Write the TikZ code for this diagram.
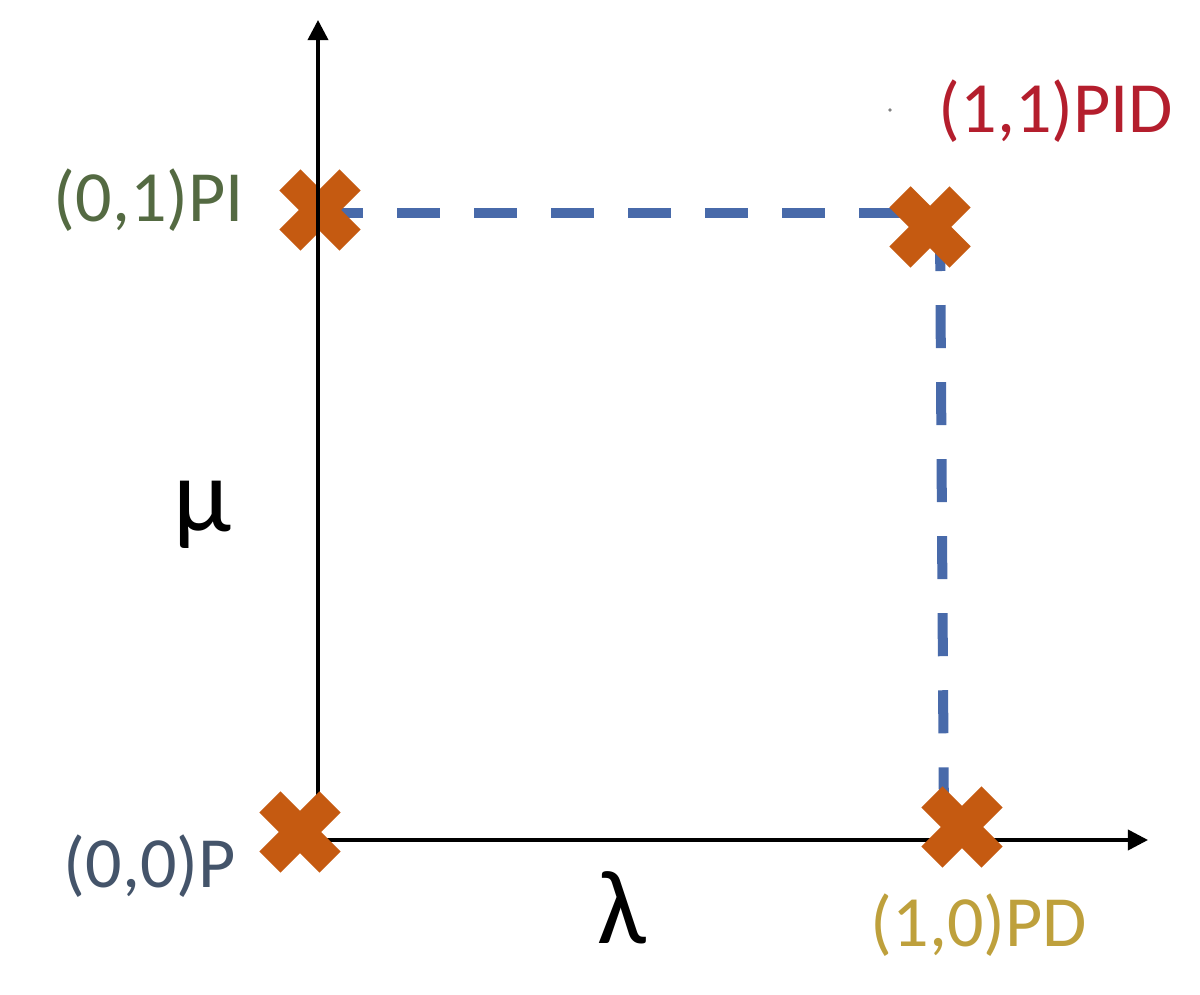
\documentclass[tikz,border=0pt]{standalone}
\usepackage{fontspec}
\setmainfont{Carlito}
\usetikzlibrary{arrows.meta,shapes.misc}
\definecolor{xorange}{RGB}{197,90,17}
\definecolor{dashblue}{RGB}{72,106,170}
\definecolor{pigreen}{RGB}{84,106,66}
\definecolor{pidred}{RGB}{180,30,45}
\definecolor{pblue}{RGB}{68,84,106}
\definecolor{pdgold}{RGB}{190,160,60}
\newcommand{\AxTip}{Triangle[length=5.7pt,width=5.7pt]}
\tikzset{xmark/.style={cross out,draw=xorange,line width=0.3cm,minimum size=0.6cm,inner sep=0pt,outer sep=0pt}}
\tikzset{axis/.style={line width=1pt,-{\AxTip}}}
\tikzset{gainbox/.style={dashblue,line width=0.1cm,dash pattern=on 0.43cm off 0.34cm}}
\tikzset{ptlabel/.style={anchor=base west,inner sep=0pt,font=\fontsize{20.5}{24}\selectfont}}
\tikzset{greek/.style={anchor=base west,inner sep=0pt,font=\fontsize{30}{36}\selectfont}}

\begin{document}
\begin{tikzpicture}[x=0.01cm,y=-0.01cm]
\useasboundingbox(0,0)rectangle(1200,995);
\coordinate(O)at(318,840);\coordinate(ytip)at(318,20);\coordinate(xtip)at(1148,840);
\coordinate(hL)at(320,213);\coordinate(hR)at(940,213);\coordinate(vT)at(940,228);\coordinate(vB)at(944,828);
% dashed box edges behind the marks
\draw[gainbox](hL)--(hR);\draw[gainbox](vT)--(vB);
\node[xmark](PI)at(320,210){};
\draw[axis](O)--(ytip);\draw[axis](O)--(xtip);
\node[xmark](P)at(300,832){};\node[xmark](PID)at(930,227){};\node[xmark](PD)at(962,827){};
% labels
\node[ptlabel,pigreen](lPI)at(53,222){(0,1)PI};
\node[ptlabel,pidred](lPID)at(938,133){(1,1)PID};
\node[ptlabel,pblue](lP)at(63,888){(0,0)P};
\node[ptlabel,pdgold](lPD)at(870,947){(1,0)PD};
\fill[gray](890,110)circle(1.8);
\node[greek](mu)at(173,532){μ};\node[greek](lam)at(597,943){λ};
\end{tikzpicture}
\end{document}
